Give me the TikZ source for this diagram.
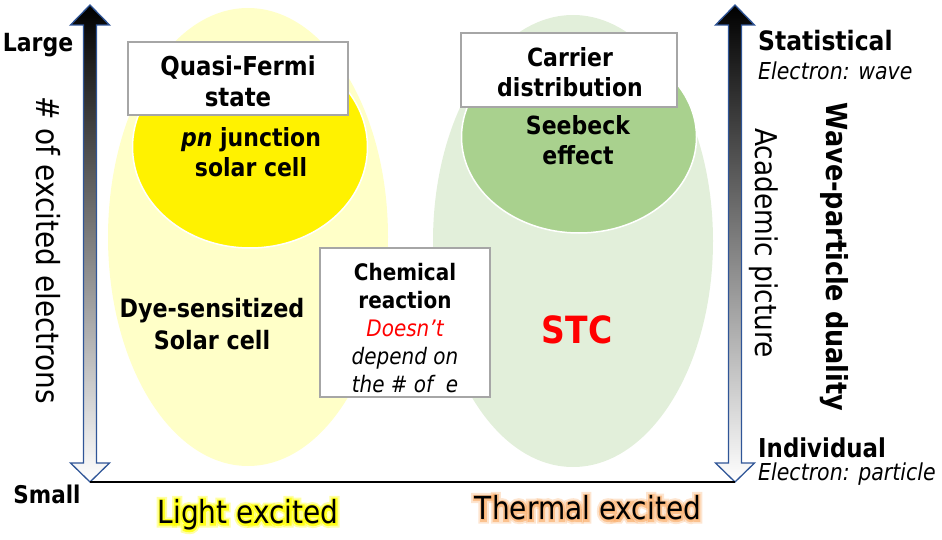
\documentclass[tikz,border=0pt]{standalone}
\usepackage{fontspec}
\setmainfont{DejaVu Sans}[FakeStretch=0.88]
\newfontfamily\glowfontA{DejaVu Sans}[FakeStretch=0.88,FakeBold=24]
\newfontfamily\glowfontB{DejaVu Sans}[FakeStretch=0.88,FakeBold=12]
\usetikzlibrary{shapes.geometric}
\definecolor{lyellow}{RGB}{255,255,200}
\definecolor{lgreen}{RGB}{226,239,218}
\definecolor{mgreen}{RGB}{169,209,142}
\definecolor{arrowblue}{RGB}{47,85,151}
\definecolor{boxgray}{RGB}{166,166,166}
\definecolor{glowyellow}{RGB}{255,255,0}
\definecolor{gloworange}{RGB}{250,170,100}
\begin{document}
\begin{tikzpicture}[x=1pt,y=-1pt,
  blob/.style={ellipse,inner sep=0pt,draw=none},
  whitebox/.style={rectangle,draw=boxgray,line width=1.5pt,fill=white,inner sep=0pt},
  bt/.style={font=\fontsize{25.5}{30}\selectfont\bfseries,inner sep=0pt,align=center},
  bxt/.style={font=\fontsize{22.7}{28}\selectfont,inner sep=0pt,align=center},
  rt/.style={font=\fontsize{29.5}{30}\selectfont,inner sep=0pt},
  it/.style={font=\fontsize{23.3}{24}\selectfont\itshape,inner sep=0pt,anchor=west},
  lab/.style={font=\fontsize{31.8}{32}\selectfont,inner sep=0pt},
  glowA/.style={font=\fontsize{31.8}{32}\selectfont\glowfontA,inner sep=0pt},
  glowB/.style={font=\fontsize{31.8}{32}\selectfont\glowfontB,inner sep=0pt},
  bigarrow/.style={top color=black,bottom color=white,draw=arrowblue,line width=1.3pt}
]
\useasboundingbox (0,0) rectangle (942,540);

% background blobs
\node[blob,fill=lyellow,minimum width=280pt,minimum height=458pt] (ly) at (248,237) {};
\node[blob,fill=lgreen,minimum width=280pt,minimum height=452pt] (lg) at (573,241) {};
\node[blob,fill=yellow,draw=white,line width=1.5pt,minimum width=235pt,minimum height=202pt] (yc) at (250,147) {};
\node[blob,fill=mgreen,draw=white,line width=1.5pt,minimum width=235pt,minimum height=192pt] (gc) at (579,137) {};

% boxes
\node[whitebox,minimum width=220pt,minimum height=73pt] (qbox) at (238,78.5) {};
\node[whitebox,minimum width=216pt,minimum height=74pt] (cbox) at (569,70) {};
\node[whitebox,minimum width=170pt,minimum height=149pt] (chbox) at (405,322.5) {};

% texts in boxes
\node[bt,font=\fontsize{26}{31}\selectfont\bfseries] (qtxt) at (238,81) {Quasi-Fermi\\state};
\node[bt,font=\fontsize{25}{30}\selectfont\bfseries] (ctxt) at (570,72) {Carrier\\distribution};
\node[bxt] (chtxt) at (405,328.5) {\textbf{Chemical}\\\textbf{reaction}\\\textit{\textcolor{red}{Doesn’t}}\\\textit{depend on}\\\textit{the \# of\ \ e}};

% texts in blobs
\node[bt,font=\fontsize{25}{30}\selectfont\bfseries] (pn) at (251,152) {\textit{pn} junction\\solar cell};
\node[bt,font=\fontsize{25}{30}\selectfont\bfseries] (seeb) at (578,140) {Seebeck\\effect};
\node[bt,font=\fontsize{25.3}{32}\selectfont\bfseries] (dye) at (212,324) {Dye-sensitized\\Solar cell};
\node[bt,font=\fontsize{37.5}{40}\selectfont\bfseries,text=red] (stc) at (577,330) {STC};

% arrows
\coordinate (lt) at (90,5);
\coordinate (lb) at (90,482);
\coordinate (rt) at (735,5);
\coordinate (rb) at (735,482);
\shadedraw[bigarrow] (lt) -- ++(19.5,20) -- ++(-13,0) -- (96.5,463) -- ++(13,0) -- (lb) -- ++(-19.5,-19) -- ++(13,0) -- (83.5,25) -- ++(-13,0) -- cycle;
\shadedraw[bigarrow] (rt) -- ++(19.5,20) -- ++(-13,0) -- (741.5,463) -- ++(13,0) -- (rb) -- ++(-19.5,-19) -- ++(13,0) -- (728.5,25) -- ++(-13,0) -- cycle;
\draw[line width=1.8pt] (lb) -- (rb);

% left axis labels
\node[bt,font=\fontsize{25}{26}\selectfont\bfseries] (large) at (38,45) {Large};
\node[bt,font=\fontsize{24.4}{26}\selectfont\bfseries] (small) at (47,494) {Small};
\node[rt,font=\fontsize{31.8}{30}\selectfont,rotate=-90] (nexc) at (48,250) {\# of excited electrons};

% right axis labels
\node[bt,font=\fontsize{26.7}{26}\selectfont\bfseries,anchor=west] (stat) at (758,41) {Statistical};
\node[it] (ewave) at (758,71) {Electron: wave};
\node[bt,font=\fontsize{26}{26}\selectfont\bfseries,anchor=west] (indiv) at (758,448) {Individual};
\node[it] (epart) at (758,474) {Electron: particle};
\node[rt,font=\fontsize{30}{30}\selectfont,rotate=-90] (acad) at (764,243) {Academic picture};
\node[bt,font=\fontsize{29}{30}\selectfont\bfseries,rotate=-90] (wpd) at (834,257) {Wave-particle duality};

% bottom labels with glow
\node[glowA,text=glowyellow,opacity=0.35] (lightglowA) at (248,515) {Light excited};
\node[glowB,text=glowyellow,opacity=0.8] (lightglowB) at (248,515) {Light excited};
\node[glowA,text=gloworange,opacity=0.3] (thermglowA) at (588,508) {Thermal excited};
\node[glowB,text=gloworange,opacity=0.6] (thermglowB) at (588,508) {Thermal excited};
\node[lab] (light) at (248,515) {Light excited};
\node[lab] (therm) at (588,508) {Thermal excited};
\end{tikzpicture}
\end{document}
